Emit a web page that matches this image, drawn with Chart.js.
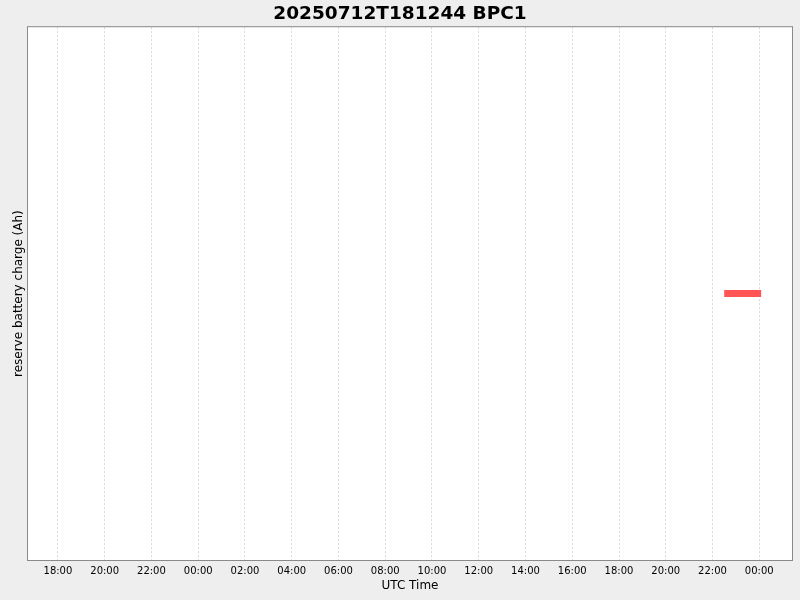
<!DOCTYPE html>
<html>
<head>
<meta charset="utf-8">
<script src="https://cdn.jsdelivr.net/npm/chart.js@4.4.1/dist/chart.umd.min.js"></script>
<style>
  html, body { margin: 0; padding: 0; background: #eeeeee; }
  #grafico { display: block; }
</style>
</head>
<body>
<canvas id="grafico" width="800" height="600"></canvas>
<script>
// Dados (horas contadas a partir de 2025-07-12 00:00 UTC)
const tituloGrafico = '20250712T181244 BPC1';
const horasSerie = [46.5, 48.08];
const valoresSerie = [0, 0];
const inicioEixo = 16.72;
const fimEixo = 49.40;
const passoTicks = 2;

function formatarHora(h) {
    const hh = ((Math.round(h) % 24) + 24) % 24;
    return String(hh).padStart(2, '0') + ':00';
}

// Fundo cinza e área do gráfico branca com borda
const fundoPlugin = {
    id: 'fundo',
    afterLayout(chart) {
        // centralizar o título na largura total do canvas
        if (chart.titleBlock) {
            chart.titleBlock.left = 0;
            chart.titleBlock.right = chart.width;
            chart.titleBlock.width = chart.width;
        }
    },
    beforeDraw(chart) {
        const ctx = chart.ctx;
        const a = chart.chartArea;
        ctx.save();
        ctx.fillStyle = '#eeeeee';
        ctx.fillRect(0, 0, chart.width, chart.height);
        ctx.fillStyle = '#ffffff';
        ctx.fillRect(a.left, a.top, a.right - a.left, a.bottom - a.top);
        ctx.restore();
    },
    afterDraw(chart) {
        const ctx = chart.ctx;
        const a = chart.chartArea;
        ctx.save();
        ctx.strokeStyle = '#8a8a8a';
        ctx.lineWidth = 1;
        ctx.strokeRect(a.left - 0.5, a.top - 0.5, a.right - a.left + 1, a.bottom - a.top + 1);
        ctx.restore();
    }
};

const ctx = document.getElementById('grafico').getContext('2d');
new Chart(ctx, {
    type: 'line',
    data: {
        datasets: [{
            label: 'BPC1',
            data: horasSerie.map((h, i) => ({ x: h, y: valoresSerie[i] })),
            borderColor: '#ff5555',
            backgroundColor: '#ff5555',
            borderWidth: 7,
            borderCapStyle: 'butt',
            pointRadius: 0,
            tension: 0
        }]
    },
    options: {
        responsive: false,
        animation: false,
        devicePixelRatio: 1,
        layout: { padding: { left: 0, right: 8, top: 0, bottom: 0 } },
        plugins: {
            legend: { display: false },
            tooltip: { enabled: false },
            title: {
                display: true,
                text: tituloGrafico,
                color: '#000000',
                font: { family: 'DejaVu Sans', size: 18.5, weight: 'bold' },
                lineHeight: 1.2,
                padding: { top: 2.6, bottom: 2.4 }
            }
        },
        scales: {
            x: {
                type: 'linear',
                min: inicioEixo,
                max: fimEixo,
                afterBuildTicks(scale) {
                    const t = [];
                    for (let h = 18; h <= fimEixo; h += passoTicks) t.push({ value: h });
                    scale.ticks = t;
                },
                afterFit(scale) { scale.height = 40; },
                ticks: {
                    callback: v => formatarHora(v),
                    color: '#000000',
                    font: { family: 'DejaVu Sans', size: 10 },
                    padding: 5,
                    maxRotation: 0,
                    autoSkip: false
                },
                grid: {
                    color: '#d8d8d8',
                    drawTicks: false,
                    tickLength: 0
                },
                border: { display: false, dash: [2, 2] },
                title: {
                    display: true,
                    text: 'UTC Time',
                    color: '#000000',
                    font: { family: 'DejaVu Sans', size: 12 },
                    padding: { top: 4, bottom: 7 }
                }
            },
            y: {
                min: -1,
                max: 1,
                afterFit(scale) { scale.width = 28; },
                ticks: { display: false },
                grid: { display: false, drawTicks: false },
                border: { display: false },
                title: {
                    display: true,
                    text: 'reserve battery charge (Ah)',
                    color: '#000000',
                    font: { family: 'DejaVu Sans', size: 12 },
                    padding: { top: 12, bottom: 0 }
                }
            }
        }
    },
    plugins: [fundoPlugin]
});
</script>
</body>
</html>
